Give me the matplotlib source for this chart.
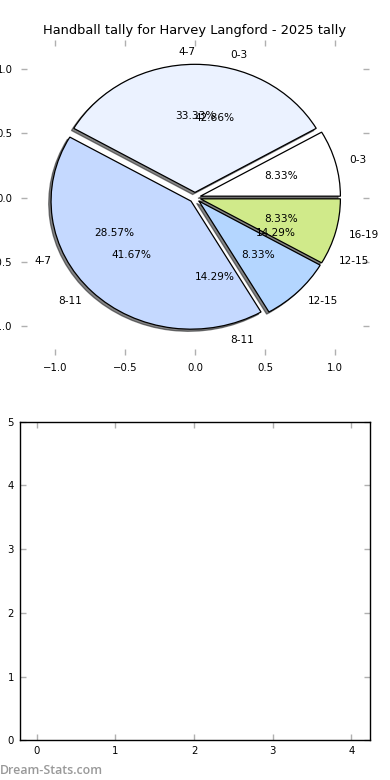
import matplotlib
matplotlib.use("Agg")
import matplotlib.pyplot as plt

title = "Handball tally for Harvey Langford - 2025 tally"

# Pie 1 (drawn with visible wedges)
cats1 = ["0-3", "4-7", "8-11", "12-15", "16-19"]
vals1 = [1, 4, 5, 1, 1]
colors1 = ["#ffffff", "#ebf2ff", "#c5d9ff", "#b4d6ff", "#d0ea8a"]

# Pie 2 (wedges hidden behind, only labels visible)
cats2 = ["0-3", "4-7", "8-11", "12-15"]
vals2 = [3, 2, 1, 1]

xticks_top = [-1.0, -0.5, 0.0, 0.5, 1.0]
yticks_top = [-1.0, -0.5, 0.0, 0.5, 1.0]
xticks_bot = [0, 1, 2, 3, 4]
yticks_bot = [0, 1, 2, 3, 4, 5]

W, H = 390, 780
fig = plt.figure(figsize=(3.9, 7.8), dpi=100)
fs = 7.3
fs_pie = 7.6
exp = 0.04

def px_axes(l, t, r, b):
    return fig.add_axes([l / W, 1 - b / H, (r - l) / W, (b - t) / H])

ax = px_axes(21, 40, 369, 355)

w2, t2, a2 = ax.pie(vals2, labels=cats2, explode=[exp] * len(vals2),
                    autopct="%.2f%%", pctdistance=0.6, labeldistance=1.1,
                    startangle=0, frame=True,
                    wedgeprops=dict(facecolor="white", edgecolor="none"),
                    textprops=dict(fontsize=fs_pie))
for w in w2:
    w.set_zorder(0)

w1, t1, a1 = ax.pie(vals1, labels=cats1, explode=[exp] * len(vals1),
                    colors=colors1, autopct="%.2f%%", pctdistance=0.6,
                    labeldistance=1.1, startangle=0,
                    shadow=dict(ox=-0.012, oy=-0.012, shade=0.95),
                    frame=True,
                    wedgeprops=dict(edgecolor="black", linewidth=0.9),
                    textprops=dict(fontsize=fs_pie))

ax.set_aspect("auto")
ax.set_xlim(-1.243, 1.243)
ax.set_ylim(-1.23, 1.23)
ax.set_frame_on(False)
ax.set_xticks(xticks_top)
ax.set_yticks(yticks_top)
ax.tick_params(direction="in", length=4, width=1, color="#b0b0b0",
               top=True, right=True, labelsize=fs, pad=6)
ax.set_title(title, fontsize=9.4, pad=4)

ax2 = px_axes(19.5, 421.5, 370.3, 740.3)
ax2.set_xlim(-0.22, 4.24)
ax2.set_ylim(0, 5)
ax2.set_xticks(xticks_bot)
ax2.set_yticks(yticks_bot)
ax2.tick_params(direction="in", length=4, width=1, color="#b0b0b0",
                top=True, right=True, labelsize=fs, pad=4)
for s in ax2.spines.values():
    s.set_linewidth(1)

fig.text(0.0, 3 / H, "Dream-Stats.com", color="#999999", fontsize=8.9,
         family="Open Sans", fontweight="semibold", ha="left", va="bottom")

fig.savefig("out.png", dpi=100)
